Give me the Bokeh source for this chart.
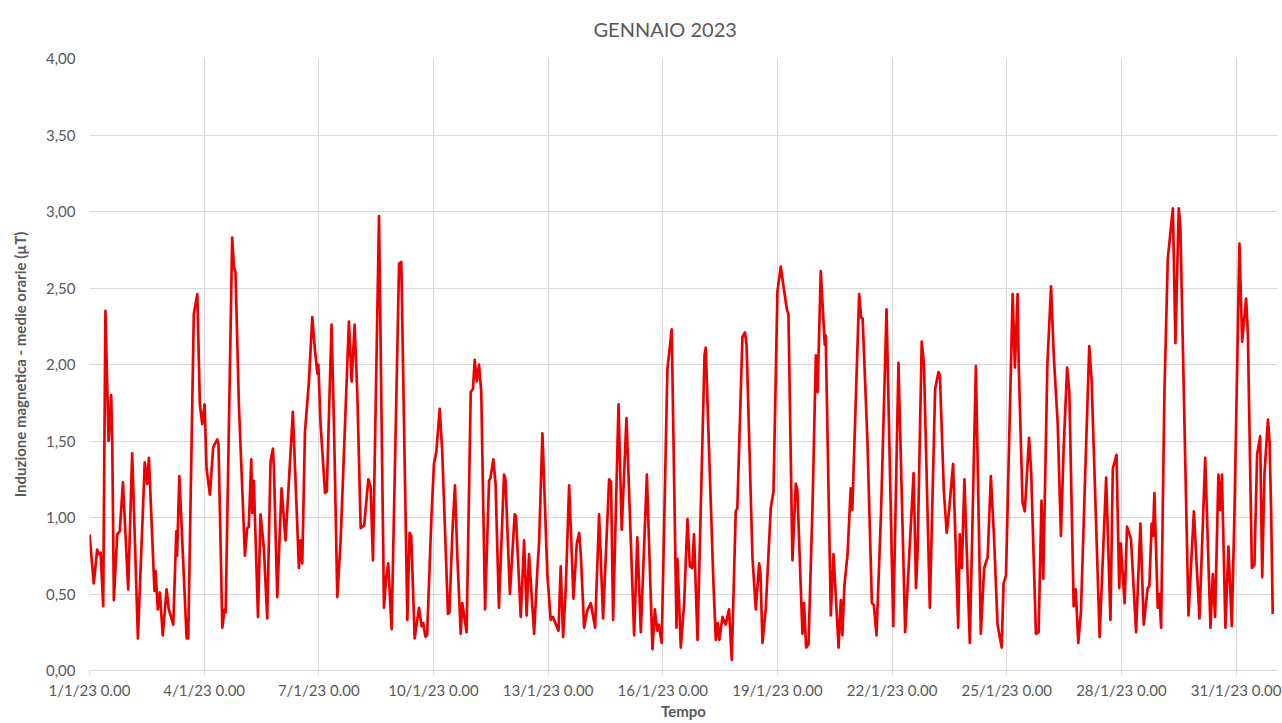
from bokeh.plotting import figure
from bokeh.models import FixedTicker, Range1d, ColumnDataSource, Title
from bokeh.embed import file_html
from bokeh.resources import INLINE

# hours since 1/1/23 0.00 and hourly mean magnetic induction (µT)
ore = [0, 2.7, 4.8, 5.8, 7, 8.6, 10, 12, 13.6, 14.3, 15.3, 17.4, 19, 21, 24.3, 26.8, 30.4,
       34.7, 36.2, 37.3, 40.8, 41.5, 42.9, 44.2, 46, 48.4, 49.8, 52.6, 54.5, 55, 56.4, 57.8,
       61, 62, 65.5, 67.7, 69.3, 70.8, 72.3, 73.5, 75.6, 77.7, 80.2, 81, 83.4, 84.8, 85.5,
       89.6, 90.7, 91.7, 93.8, 97.6, 99, 100, 101.6, 102.2, 103.2, 104, 105.8, 107.4, 109.5,
       111.6, 113.7, 115.2, 115.8, 117.9, 120.6, 123.1, 127.7, 131.5, 132.5, 133.6, 135.3,
       137.8, 139.9, 141.5, 143.1, 143.7, 145.1, 147.9, 149, 152, 153.5, 155.6, 157.7, 162.9,
       164.6, 166.5, 168.2, 170.3, 172.5, 175.1, 176.5, 178, 181.8, 184.9, 186.3, 187.6, 189.7,
       194.4, 195.8, 197.5, 199.6, 201, 202, 204.2, 206.9, 208.5, 209.5, 211, 212, 214.7,
       216.3, 217.8, 219.9, 221.5, 225.1, 226, 227.9, 229.5, 231, 233.1, 234.1, 236.8, 239.4,
       240.8, 241.9, 243.2, 244.6, 246, 248.4, 250.9, 251.8, 253.6, 255, 257.1, 260.3, 261.2,
       264, 267, 267.8, 270.8, 272.9, 274.5, 276, 279.2, 281.3, 282.3, 284.4, 287.5, 289.6,
       291, 294.5, 295.9, 297.4, 299, 301.2, 303.9, 306, 307.5, 308.5, 310.6, 312.5, 314.8,
       317.5, 320, 322.5, 326.3, 327.5, 328.8, 332.2, 334.2, 337.2, 342, 344, 346.2, 350,
       353.5, 355, 356.5, 357.5, 359.3, 362.9, 365.6, 368.6, 369.2, 371.3, 373.4, 375.5, 377,
       378.5, 379.6, 381.8, 386.2, 387, 388.5, 391.8, 393.3, 394.5, 395.5, 397.5, 399.5, 401.6,
       403.3, 405.8, 406.8, 410, 411.6, 412.6, 416.3, 418.4, 420.5, 421.3, 422.6, 424.7, 427.8,
       429.5, 432, 434.1, 435.8, 437.9, 438.9, 441.4, 443.5, 444.5, 446.2, 447.7, 448.7, 450,
       451.5, 454.1, 456.1, 457.2, 459.2, 461.7, 462.3, 465.5, 467.2, 470.4, 471.8, 472.8, 474,
       476, 478, 479, 483.3, 484.5, 485.5, 488.5, 491.3, 492.5, 494.2, 497, 500.5, 504.7, 508,
       512.2, 517.5, 519, 520, 522.6, 524, 527.7, 531, 533.1, 534, 536.5, 538.3, 539.8, 542.3,
       545.5, 546.5, 547.8, 549.4, 552.8, 556.6, 559.7, 561.8, 564, 566, 568, 570.2, 572.8, 574,
       575.5, 579.7, 581.1, 582.8, 583.5, 585.9, 587.3, 590, 591.3, 594.3, 596, 597.8, 598.9,
       601.5, 603.8, 605.5, 608, 610, 611.7, 613.9, 615.3, 618, 619.3, 620.9, 622.6, 625.3,
       627.8, 629.3, 634.3, 638.4, 641.1, 642.6, 644.9, 646.6, 647.6, 650, 651.5, 654, 657.2,
       659.9, 662, 664.5, 665.5, 667, 667.8, 668.7, 670.8, 671.8, 672.9, 675, 677.1, 680.3,
       681.9, 684, 685, 690.1, 693.5, 697, 700.6, 703.9, 705.4, 706.8, 708.9, 710, 711.1, 713.3,
       715.2, 717.3, 719, 722.1, 723.8, 726.3, 727.4, 729.9, 731.5, 733.2, 735.1, 736.4, 737.8,
       740, 741, 742, 743]

induzione = [0.89, 0.57, 0.79, 0.76, 0.77, 0.42, 2.35, 1.50, 1.80, 1.48, 0.46, 0.89, 0.91, 1.23,
             0.53, 1.42, 0.21, 1.36, 1.22, 1.39, 0.52, 0.65, 0.40, 0.51, 0.23, 0.53, 0.40, 0.30,
             0.91, 0.75, 1.27, 0.95, 0.21, 0.21, 2.33, 2.46, 1.74, 1.61, 1.74, 1.32, 1.15, 1.46,
             1.51, 1.48, 0.28, 0.40, 0.38, 2.83, 2.64, 2.60, 1.74, 0.75, 0.93, 0.94, 1.38, 1.03,
             1.24, 0.96, 0.35, 1.02, 0.80, 0.34, 1.37, 1.45, 1.32, 0.48, 1.19, 0.85, 1.69, 0.67,
             0.85, 0.70, 1.56, 1.89, 2.31, 2.10, 1.94, 2.00, 1.61, 1.16, 1.17, 2.26, 1.61, 0.48,
             0.85, 2.28, 1.89, 2.26, 1.80, 0.93, 0.95, 1.25, 1.20, 0.72, 2.97, 0.41, 0.61, 0.70,
             0.27, 2.66, 2.67, 1.61, 0.33, 0.90, 0.88, 0.21, 0.41, 0.29, 0.31, 0.22, 0.23, 1.00,
             1.35, 1.43, 1.71, 1.43, 0.37, 0.38, 0.91, 1.21, 0.74, 0.24, 0.44, 0.25, 1.82, 1.84,
             2.03, 1.89, 2.00, 1.82, 0.40, 1.24, 1.26, 1.38, 1.22, 0.41, 1.28, 1.25, 0.50, 1.02,
             1.01, 0.35, 0.85, 0.36, 0.76, 0.24, 0.67, 0.83, 1.55, 0.63, 0.33, 0.35, 0.26, 0.68,
             0.22, 0.52, 1.21, 0.47, 0.83, 0.90, 0.76, 0.28, 0.39, 0.44, 0.28, 1.02, 0.34, 1.25,
             1.23, 0.33, 1.74, 0.92, 1.65, 0.23, 0.87, 0.25, 1.28, 0.14, 0.40, 0.26, 0.30, 0.18,
             1.97, 2.23, 0.28, 0.73, 0.15, 0.44, 0.99, 0.68, 0.67, 0.89, 0.20, 2.06, 2.11, 1.61,
             0.57, 0.20, 0.31, 0.20, 0.35, 0.30, 0.40, 0.07, 1.04, 1.06, 2.18, 2.21, 2.13, 0.74,
             0.40, 0.70, 0.64, 0.18, 0.41, 1.06, 1.17, 2.48, 2.64, 2.51, 2.36, 2.33, 0.72, 1.22,
             1.18, 0.67, 0.24, 0.44, 0.15, 0.17, 1.11, 2.06, 1.82, 2.61, 2.13, 2.19, 0.36, 0.76,
             0.15, 0.46, 0.23, 0.55, 0.76, 1.19, 1.05, 2.46, 2.31, 2.30, 1.50, 0.44, 0.43, 0.23,
             1.02, 2.36, 0.29, 2.01, 0.25, 1.29, 0.54, 0.78, 2.15, 2.00, 0.41, 1.84, 1.95, 1.93,
             1.17, 0.90, 1.05, 1.35, 0.28, 0.89, 0.67, 1.25, 0.18, 1.99, 0.24, 0.67, 0.74, 1.27,
             0.87, 0.30, 0.15, 0.57, 0.62, 2.46, 1.98, 2.46, 2.00, 1.10, 1.04, 1.52, 1.30, 0.24,
             0.25, 1.11, 0.60, 2.00, 2.51, 2.06, 1.61, 0.88, 1.45, 1.98, 1.82, 0.42, 0.53, 0.18,
             0.39, 1.30, 2.12, 1.89, 0.22, 1.26, 0.33, 1.32, 1.41, 0.54, 0.83, 0.44, 0.94, 0.86,
             0.25, 0.96, 0.30, 0.54, 0.55, 0.96, 0.88, 1.16, 0.41, 0.50, 0.28, 1.82, 2.69, 3.02,
             2.14, 3.02, 2.90, 0.36, 1.04, 0.34, 1.39, 0.28, 0.63, 0.35, 1.28, 1.05, 1.28, 0.28,
             0.81, 0.29, 1.04, 2.79, 2.15, 2.43, 2.20, 0.67, 0.69, 1.41, 1.53, 0.61, 1.28, 1.64,
             1.50, 1.04, 0.37]

x_ticks = [0, 72, 144, 216, 288, 360, 432, 504, 576, 648, 720]
x_labels = ["1/1/23 0.00", "4/1/23 0.00", "7/1/23 0.00", "10/1/23 0.00", "13/1/23 0.00",
            "16/1/23 0.00", "19/1/23 0.00", "22/1/23 0.00", "25/1/23 0.00", "28/1/23 0.00",
            "31/1/23 0.00"]
y_ticks = [0, 0.5, 1, 1.5, 2, 2.5, 3, 3.5, 4]
y_labels = ["0,00", "0,50", "1,00", "1,50", "2,00", "2,50", "3,00", "3,50", "4,00"]

titolo = "GENNAIO 2023"
etichetta_x = "Tempo"
etichetta_y = "Induzione magnetica - medie orarie (µT)"

FONT = "Lato"
GREY = "#595959"
GRID = "#d9d9d9"

src = ColumnDataSource(dict(x=ore, y=induzione))

p = figure(width=1282, height=723, output_backend="svg", toolbar_location=None,
           x_range=Range1d(0, 746), y_range=Range1d(0, 4),
           min_border_left=89, min_border_right=5, min_border_top=56, min_border_bottom=53)
p.outline_line_color = None
p.background_fill_color = "white"
p.border_fill_color = "white"

main_title = Title(text=titolo, align="left", offset=504, vertical_align="top", standoff=32,
                   text_font=FONT, text_font_size="20px", text_font_style="normal",
                   text_color=GREY)
p.add_layout(main_title, "above")

p.line("x", "y", source=src, line_color="#ee0000", line_width=2.7, line_join="round")

p.xaxis.ticker = FixedTicker(ticks=x_ticks)
p.xaxis.major_label_overrides = {t: l for t, l in zip(x_ticks, x_labels)}
p.yaxis.ticker = FixedTicker(ticks=y_ticks)
p.yaxis.major_label_overrides = {t: l for t, l in zip(y_ticks, y_labels)}

for ax in (p.xaxis[0], p.yaxis[0]):
    ax.major_label_text_font = FONT
    ax.major_label_text_font_size = "15px"
    ax.major_label_text_color = GREY
    ax.axis_label_text_font = FONT
    ax.axis_label_text_font_style = "bold"
    ax.axis_label_text_color = GREY
    ax.minor_tick_line_color = None

p.xaxis.axis_label = etichetta_x
p.xaxis.axis_label_text_font_size = "15px"
p.xaxis.axis_line_color = GRID
p.xaxis.major_tick_line_color = GRID
p.xaxis.major_tick_out = 5
p.xaxis.major_tick_in = 0
p.xaxis.major_label_standoff = 5
p.xaxis.axis_label_standoff = 0

p.yaxis.axis_label = etichetta_y
p.yaxis.axis_label_text_font_size = "15px"
p.yaxis.axis_line_color = None
p.yaxis.major_tick_line_color = None
p.yaxis.major_tick_out = 0
p.yaxis.major_tick_in = 0
p.yaxis.major_label_standoff = 14
p.yaxis.axis_label_standoff = 14

p.xgrid.grid_line_color = GRID
p.ygrid.grid_line_color = GRID

open("out.html", "w").write(file_html(p, INLINE))
